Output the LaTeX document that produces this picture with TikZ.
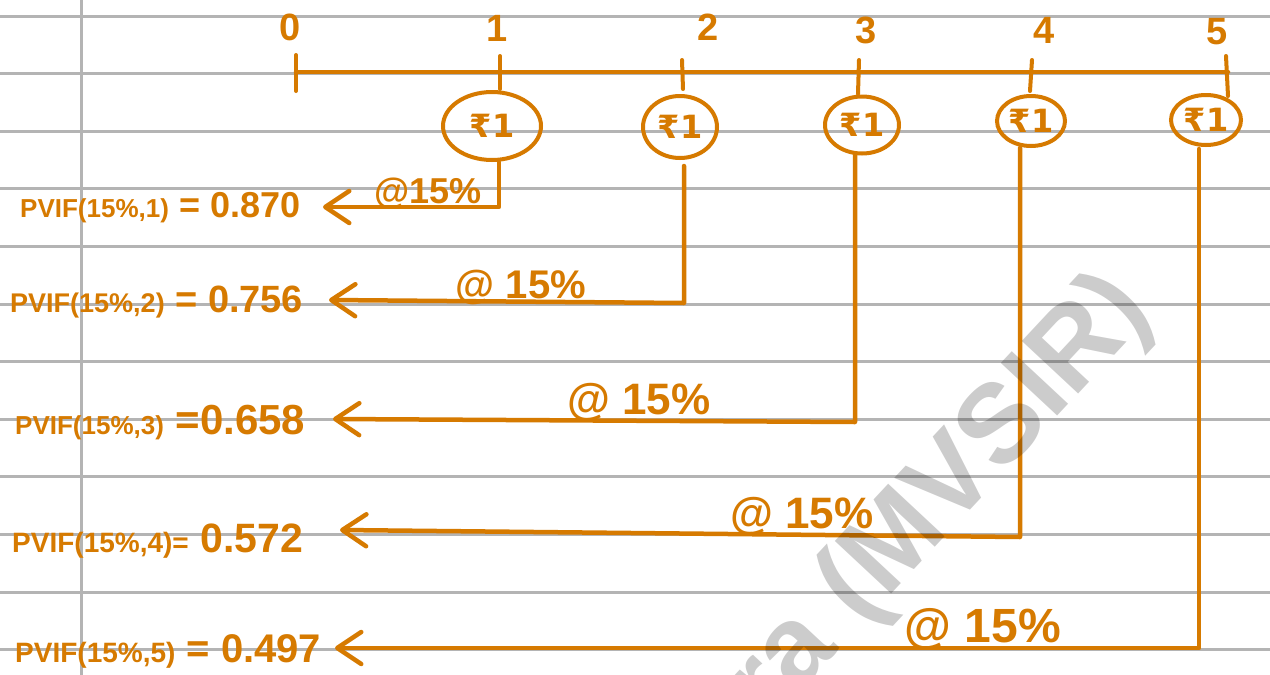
\documentclass[tikz,border=0pt]{standalone}
\usepackage{fontspec}
\setmainfont{Liberation Sans}
\newfontfamily\rupfont{DejaVu Sans}
\usetikzlibrary{arrows.meta,shapes.geometric}
\definecolor{ink}{RGB}{214,122,0}
\definecolor{ruled}{RGB}{180,180,180}
\newcommand{\fs}[1]{\fontsize{#1}{#1}\selectfont}
\begin{document}
\begin{tikzpicture}[x=1pt,y=-1pt,
  ruleline/.style={draw=ruled,line width=3pt},
  pen/.style={draw=ink,line width=4.5pt,line cap=round,line join=round},
  tickmark/.style={draw=ink,line width=4pt,line cap=round},
  coin/.style={ellipse,draw=ink,line width=4pt,inner sep=0pt,text=ink,font=\rupfont\bfseries\fs{32}},
  rate/.style={text=ink,anchor=base,inner sep=0pt},
  num/.style={text=ink,anchor=base,inner sep=0pt,font=\bfseries\fs{38}},
  pvif/.style={text=ink,anchor=base west,inner sep=0pt},
  back/.style={pen,-{Straight Barb[length=24pt,width=32pt,round]}}]
\useasboundingbox (0,0) rectangle (1270,675);
\fill[white] (0,0) rectangle (1270,675);
% ruled paper
\foreach \k in {0,...,11} \draw[ruleline] (0,{16+57.6*\k}) -- (1270,{16+57.6*\k});
\draw[ruleline] (81,0) -- (81,675);
% timeline
\coordinate (t0) at (296,72);
\coordinate (t5) at (1228,72);
\draw[pen] (t0) -- (t5);
\draw[tickmark] (296,55) -- (296,91);
\draw[tickmark] (500,56) -- (500,89);
\draw[tickmark] (682,60) -- (683,89);
\draw[tickmark] (859,60) -- (858,94);
\draw[tickmark] (1032,60) -- (1030,91);
\draw[tickmark] (1226,56) -- (1228,96);
\node[num] (n0) at (290,40) {0};
\node[num] (n1) at (497,41) {1};
\node[num] (n2) at (708,40) {2};
\node[num] (n3) at (866,43) {3};
\node[num] (n4) at (1044,43) {4};
\node[num] (n5) at (1217,44) {5};
% cash flows
\node[coin,minimum width=98pt,minimum height=68pt] (e1) at (492,126) {₹1};
\node[coin,minimum width=74pt,minimum height=62pt] (e2) at (680,127) {₹1};
\node[coin,minimum width=74pt,minimum height=57pt] (e3) at (862,125) {₹1};
\node[coin,minimum width=68pt,minimum height=50pt] (e4) at (1031,121) {₹1};
\node[coin,minimum width=70pt,minimum height=50pt] (e5) at (1206,120) {₹1};
% corners and tips
\coordinate (c1) at (499,207);
\coordinate (c2) at (684,303);
\coordinate (c3) at (855,422);
\coordinate (c4) at (1020,537);
\coordinate (c5) at (1199,648);
\coordinate (a1) at (323,207);
\coordinate (a2) at (329,300);
\coordinate (a3) at (333,419);
\coordinate (a4) at (340,530);
\coordinate (a5) at (335,648);
\draw[back] (c1 |- e1.south) -- (c1) -- (a1);
\draw[back] (684,166) -- (c2) -- (a2);
\draw[back] (c3 |- e3.south) -- (c3) -- (a3);
\draw[back] (c4 |- e4.south) -- (c4) -- (a4);
\draw[back] (1199,149) -- (c5) -- (a5);
% rates
\node[rate,font=\bfseries\fs{36}] (r1) at (428,203) {@15\%};
\node[rate,font=\bfseries\fs{40}] (r2) at (521,298) {@ 15\%};
\node[rate,font=\bfseries\fs{44}] (r3) at (639,414) {@ 15\%};
\node[rate,font=\bfseries\fs{44}] (r4) at (802,528) {@ 15\%};
\node[rate,font=\bfseries\fs{48}] (r5) at (983,642) {@ 15\%};
% PVIF values
\node[pvif,font=\bfseries] (v1) at (20,217) {\fs{26}PVIF(15\%,1)\fs{36} = 0.870};
\node[pvif,font=\bfseries] (v2) at (10,312) {\fs{27}PVIF(15\%,2)\fs{38} = 0.756};
\node[pvif,font=\bfseries] (v3) at (15,434) {\fs{26}PVIF(15\%,3)\fs{42} =0.658};
\node[pvif,font=\bfseries] (v4) at (12,552) {\fs{28}PVIF(15\%,4)=\fs{41} 0.572};
\node[pvif,font=\bfseries] (v5) at (15,662) {\fs{28}PVIF(15\%,5)\fs{40} = 0.497};
% watermark
\begin{scope}
\clip (0,0) rectangle (1270,675);
\node[rotate=47,text=black,text opacity=0.2,font=\bfseries\fs{112},inner sep=0pt] (wm) at (940,500) {ra (MVSIR)};
\end{scope}
\end{tikzpicture}
\end{document}
